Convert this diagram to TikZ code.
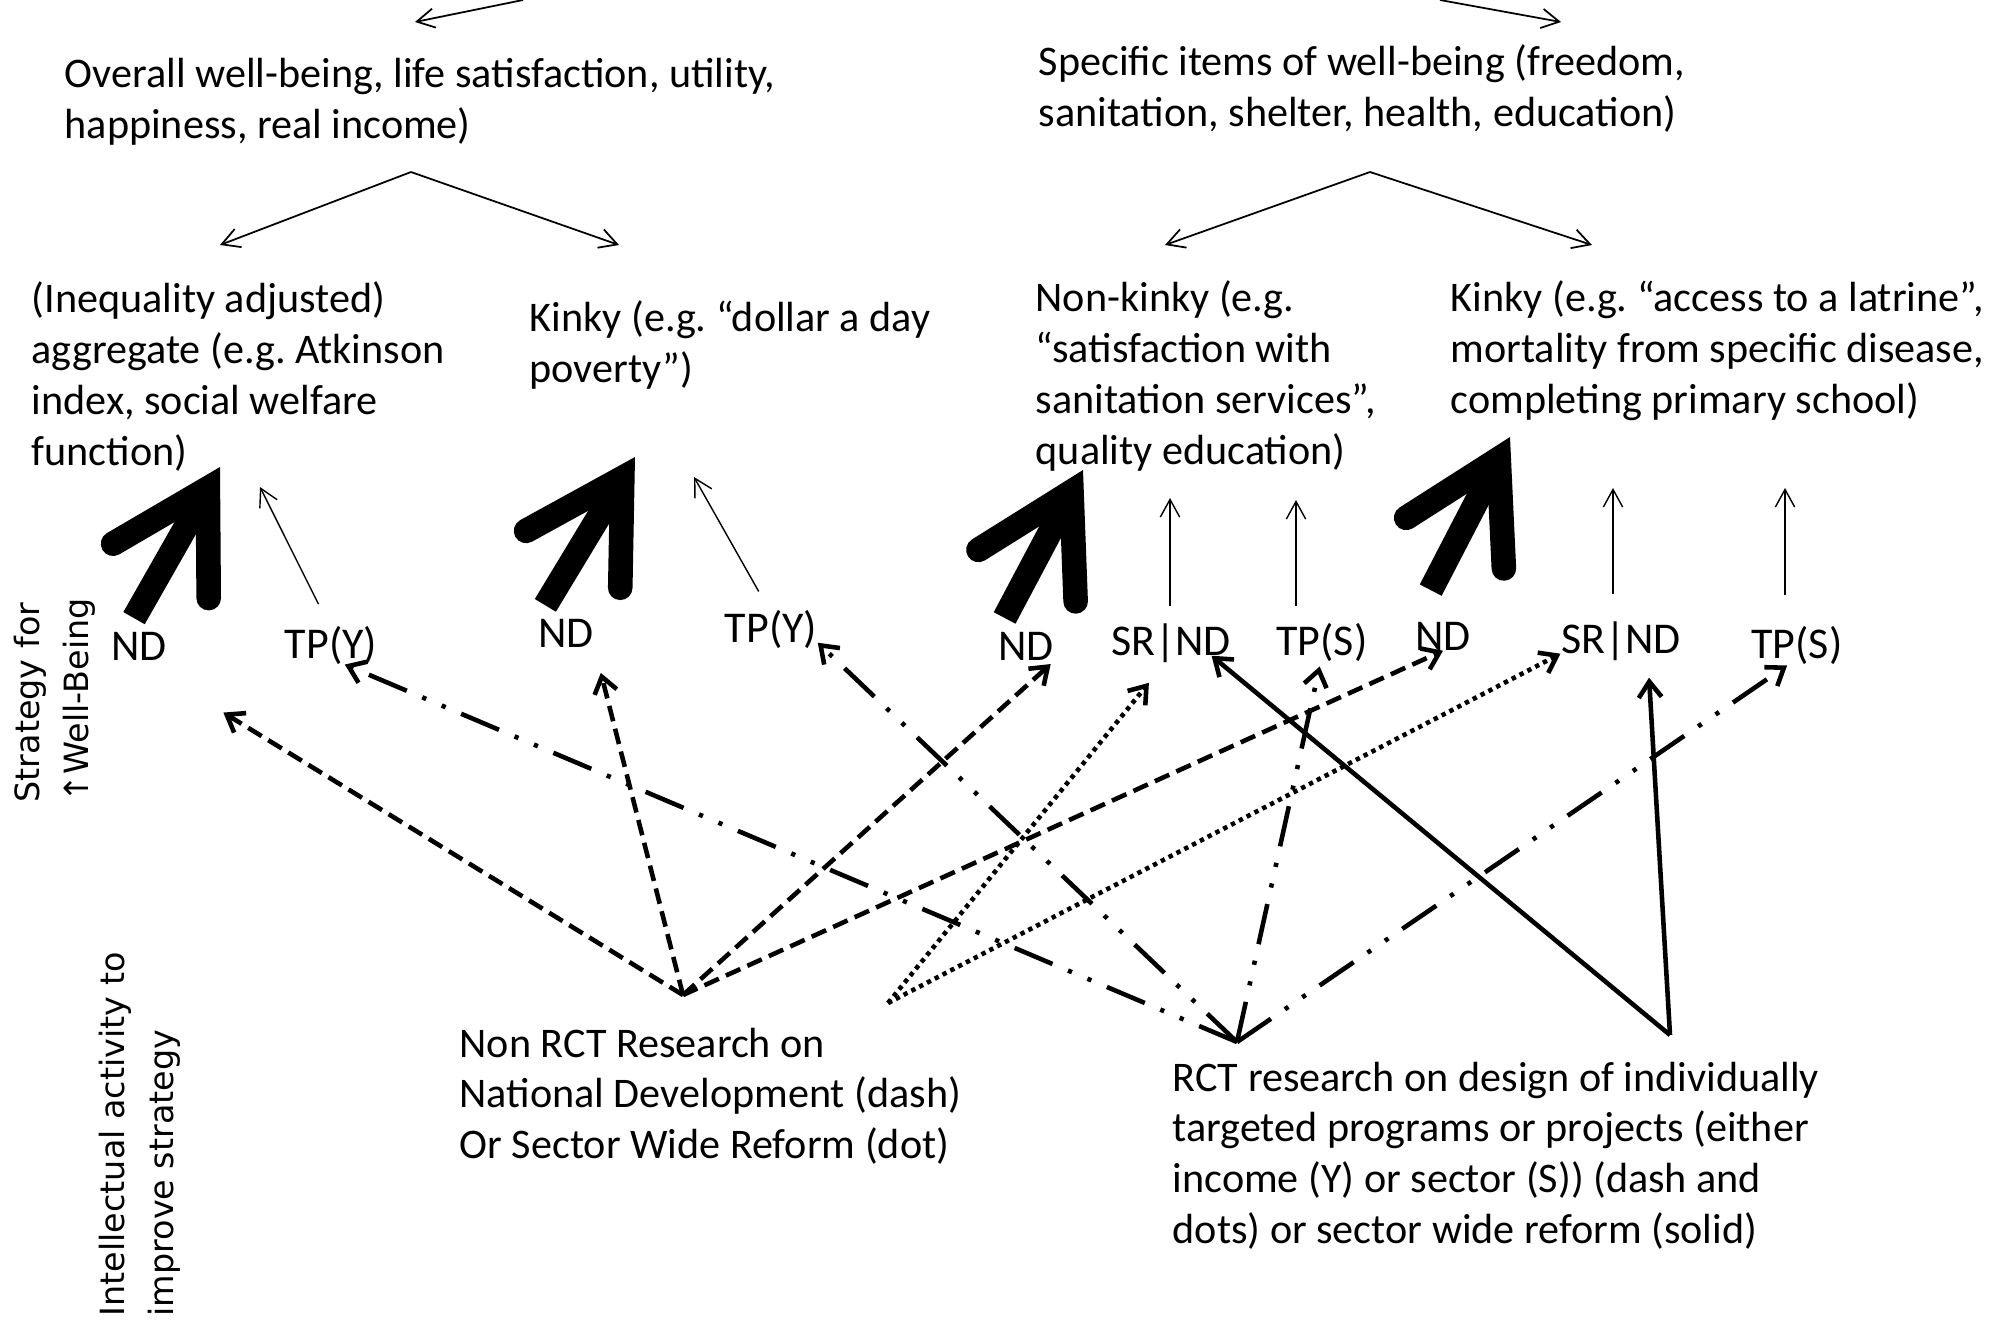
\documentclass[tikz,border=0pt]{standalone}
\usepackage{fontspec}
\setmainfont{Carlito}
\newfontfamily\sidefont{DejaVu Sans}
\usetikzlibrary{arrows.meta}
\frenchspacing
\tikzset{
  every node/.style={inner sep=0pt},
  cat/.style={anchor=north west, align=left, font=\fontsize{12}{14.5}\selectfont},
  lbl/.style={anchor=base, font=\fontsize{12.5}{15}\selectfont, text height=8pt, text depth=0pt},
  sidelbl/.style={anchor=north west, rotate=90, align=left, font=\sidefont\fontsize{9.5}{14}\selectfont},
  thinarr/.style={line width=0.5pt, -{Straight Barb[length=5pt,width=5.5pt]}},
  bigarrow/.style={line width=7pt, -{Straight Barb[line cap=round,line join=miter,length=9.5mm,width=11mm]}},
  conn/.style={line width=1.3pt, -{Straight Barb[length=4.5pt,width=6.5pt]}},
  dashln/.style={conn, dash pattern=on 4.5pt off 2.2pt},
  dotln/.style={conn, dash pattern=on 1.25pt off 1.25pt},
  dashdotln/.style={conn, dash pattern=on 11.7pt off 4.8pt on 1.2pt off 4.8pt on 1.2pt off 4.8pt},
  solidln/.style={conn}
}
\begin{document}
\begin{tikzpicture}
\useasboundingbox (0,0) rectangle (20.06,-13.21);

\node[cat] (overall) at (0.64,-0.58) {Overall well-being, life satisfaction, utility,\\happiness, real income)};
\node[cat] (specific) at (10.38,-0.44) {Specific items of well-being (freedom,\\sanitation, shelter, health, education)};

\node[cat] (ineq) at (0.31,-2.81) {(Inequality adjusted)\\aggregate (e.g. Atkinson\\index, social welfare\\function)};
\node[cat] (kinky1) at (5.29,-3.00) {Kinky (e.g. “dollar a day\\poverty”)};
\node[cat] (nonkinky) at (10.35,-2.80) {Non-kinky (e.g.\\“satisfaction with\\sanitation services”,\\quality education)};
\node[cat] (kinky2) at (14.50,-2.80) {Kinky (e.g. “access to a latrine”,\\mortality from specific disease,\\completing primary school)};

\node[lbl] (nd1) at (1.39,-6.60) {ND};
\node[lbl] (tpy1) at (3.31,-6.58) {TP(Y)};
\node[lbl] (nd2) at (5.66,-6.47) {ND};
\node[lbl] (tpy2) at (7.71,-6.42) {TP(Y)};
\node[lbl] (nd3) at (10.26,-6.60) {ND};
\node[lbl] (srnd1) at (11.71,-6.55) {SR|ND};
\node[lbl] (tps1) at (13.22,-6.55) {TP(S)};
\node[lbl] (nd4) at (14.43,-6.50) {ND};
\node[lbl] (srnd2) at (16.21,-6.53) {SR|ND};
\node[lbl] (tps2) at (17.97,-6.58) {TP(S)};

\node[cat] (nonrct) at (4.59,-10.27) {Non RCT Research on\\National Development (dash)\\Or Sector Wide Reform (dot)};
\node[cat] (rct) at (11.72,-10.61) {RCT research on design of individually\\targeted programs or projects (either\\income (Y) or sector (S)) (dash and\\dots) or sector wide reform (solid)};

\node[sidelbl] (strat) at (0.13,-8.03) {Strategy for\\↑Well-Being};
\node[sidelbl] (intel) at (0.98,-13.17) {Intellectual activity to\\improve strategy};

\coordinate (topl) at (5.23,0);
\coordinate (topr) at (14.40,0);
\coordinate (ov-in) at (4.15,-0.22);
\coordinate (sp-in) at (15.61,-0.22);
\coordinate (ovsplit) at (4.11,-1.72);
\coordinate (spsplit) at (13.70,-1.72);
\coordinate (ineq-in) at (2.20,-2.45);
\coordinate (k1-in) at (6.19,-2.45);
\coordinate (nk-in) at (11.65,-2.45);
\coordinate (k2-in) at (15.92,-2.45);
\coordinate (ineq-nd) at (2.20,-4.67);
\coordinate (ineq-tp) at (2.60,-4.87);
\coordinate (k1-nd) at (6.35,-4.57);
\coordinate (k1-tp) at (6.94,-4.77);
\coordinate (nk-nd) at (10.83,-4.70);
\coordinate (nk-sr) at (11.70,-4.98);
\coordinate (nk-tp) at (12.96,-5.00);
\coordinate (k2-nd) at (15.10,-4.37);
\coordinate (k2-sr) at (16.13,-4.88);
\coordinate (k2-tp) at (17.85,-4.88);
\coordinate (dashsrc) at (6.83,-9.95);
\coordinate (dotsrc) at (8.88,-10.03);
\coordinate (dashdotsrc) at (12.37,-10.42);
\coordinate (solidsrc) at (16.70,-10.35);

\draw[thinarr] (topl) -- (ov-in);
\draw[thinarr] (topr) -- (sp-in);
\draw[thinarr] (ovsplit) -- (ineq-in);
\draw[thinarr] (ovsplit) -- (k1-in);
\draw[thinarr] (spsplit) -- (nk-in);
\draw[thinarr] (spsplit) -- (k2-in);

\draw[bigarrow, shorten <=1.5mm] (nd1.130) -- (ineq-nd);
\draw[bigarrow, shorten <=1.5mm] (nd2.north west) -- (k1-nd);
\draw[bigarrow, shorten <=1.5mm] (nd3.north west) -- (nk-nd);
\draw[bigarrow, shorten <=3.5mm] (nd4.north west) -- (k2-nd);

\draw[thinarr, line width=0.4pt, shorten <=2.8mm] (tpy1.north) -- (ineq-tp);
\draw[thinarr, line width=0.4pt, shorten <=2.5mm] (tpy2.north) -- (k1-tp);
\draw[thinarr, line width=0.4pt, shorten <=2mm] (nk-sr |- srnd1.north) -- (nk-sr);
\draw[thinarr, line width=0.4pt, shorten <=2mm] (nk-tp |- tps1.north) -- (nk-tp);
\draw[thinarr, line width=0.4pt, shorten <=3mm] (k2-sr |- srnd2.north) -- (k2-sr);
\draw[thinarr, line width=0.4pt, shorten <=3.4mm] (k2-tp |- tps2.north) -- (k2-tp);

\draw[dashln, shorten >=9.9mm] (dashsrc) -- (nd1.south);
\draw[dashln, shorten >=2.6mm] (dashsrc) -- (nd2.south east);
\draw[dashln, shorten >=0.5mm] (dashsrc) -- (nd3.south east);
\draw[dashln] (dashsrc) -- (nd4.south);

\draw[dotln, shorten >=3.5mm] (dotsrc) -- (srnd1.south);
\draw[dotln] (dotsrc) -- (srnd2.south west);

\draw[dashdotln, shorten >=1.5mm] (dashdotsrc) -- (tpy1.south);
\draw[dashdotln] (dashdotsrc) -- (tpy2.south east);
\draw[dashdotln, shorten >=1.1mm] (dashdotsrc) -- (tps1.south);
\draw[dashdotln, shorten >=1.2mm] (dashdotsrc) -- (tps2.south);

\draw[solidln] (solidsrc) -- (srnd1.-20);
\draw[solidln, shorten >=2.4mm] (solidsrc) -- (srnd2.-29);

\end{tikzpicture}
\end{document}
